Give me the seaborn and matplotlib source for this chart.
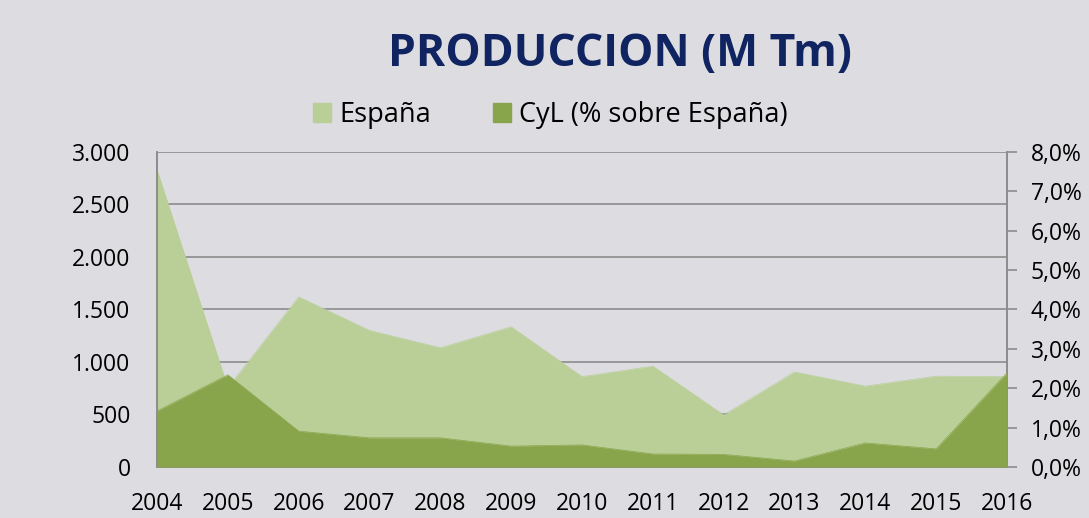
import matplotlib
matplotlib.use("Agg")
import matplotlib.pyplot as plt
import seaborn as sns
import pandas as pd
from matplotlib.ticker import FuncFormatter, MultipleLocator
from matplotlib.patches import Patch

years = [2004, 2005, 2006, 2007, 2008, 2009, 2010, 2011, 2012, 2013, 2014, 2015, 2016]
espana = [2830, 755, 1620, 1300, 1135, 1335, 860, 960, 495, 905, 770, 865, 860]
cyl_pct = [1.42, 2.34, 0.91, 0.74, 0.74, 0.53, 0.56, 0.33, 0.32, 0.15, 0.61, 0.46, 2.39]

bg = "#dddce0"
light_green = "#b9cf97"
dark_green = "#89a54c"
grid_gray = "#8c8c8c"
navy = "#0f2460"

sns.set_theme(style="white")
plt.rcParams["font.family"] = ["Open Sans", "DejaVu Sans"]

df = pd.DataFrame({"year": years, "espana": espana, "cyl": cyl_pct})

fig = plt.figure(figsize=(10.89, 5.18), dpi=100, facecolor=bg)
ax = fig.add_axes([0.1442, 0.0985, 0.7805, 0.6081])
ax.set_facecolor(bg)

# España on the left axis
ax.fill_between(df["year"], 0, df["espana"], color=light_green, linewidth=0, zorder=2)
sns.lineplot(data=df, x="year", y="espana", ax=ax, color=light_green, linewidth=0.5, zorder=2)
ax.set_ylim(0, 3000)
ax.set_xlim(years[0], years[-1])
ax.yaxis.set_major_locator(MultipleLocator(500))
ax.yaxis.set_major_formatter(FuncFormatter(lambda v, p: f"{int(v):,}".replace(",", ".")))
ax.grid(axis="y", color=grid_gray, linewidth=1.2)
ax.grid(axis="x", visible=False)
ax.set_axisbelow(True)
ax.set_xticks(years)
ax.set_xlabel("")
ax.set_ylabel("")
ax.tick_params(axis="x", length=0, pad=18, labelsize=16.5, labelcolor="black")
ax.tick_params(axis="y", length=0, pad=19, labelsize=16.5, labelcolor="black")

# CyL share on the right axis
ax2 = ax.twinx()
ax2.fill_between(df["year"], 0, df["cyl"], color=dark_green, linewidth=0, zorder=3)
sns.lineplot(data=df, x="year", y="cyl", ax=ax2, color=dark_green, linewidth=0.5, zorder=3)
ax2.set_ylim(0, 8)
ax2.yaxis.set_major_locator(MultipleLocator(1))
ax2.yaxis.set_major_formatter(FuncFormatter(lambda v, p: f"{v:.1f}%".replace(".", ",")))
ax2.set_ylabel("")
ax2.grid(False)
ax2.tick_params(axis="y", length=7, width=1.2, color=grid_gray, pad=10, labelsize=16.5,
                labelcolor="black", right=True)

for a in (ax, ax2):
    for side, sp in a.spines.items():
        sp.set_color(grid_gray)
        sp.set_linewidth(1.4)
    a.spines["top"].set_visible(False)
ax.spines["right"].set_visible(False)
ax2.spines["left"].set_visible(False)
ax2.spines["bottom"].set_visible(False)

fig.text(0.569, 0.895, "PRODUCCION (M Tm)", ha="center", va="center",
         fontsize=32, fontweight="bold", color=navy)

handles = [Patch(color=light_green, label="España"),
           Patch(color=dark_green, label="CyL (% sobre España)")]
fig.legend(handles=handles, loc="center", bbox_to_anchor=(0.5055, 0.778), ncol=2,
           frameon=False, fontsize=19.5, handlelength=0.67, handleheight=0.67,
           handletextpad=0.3, columnspacing=2.3, labelcolor="black")

fig.savefig("out.png", dpi=100, facecolor=bg)
